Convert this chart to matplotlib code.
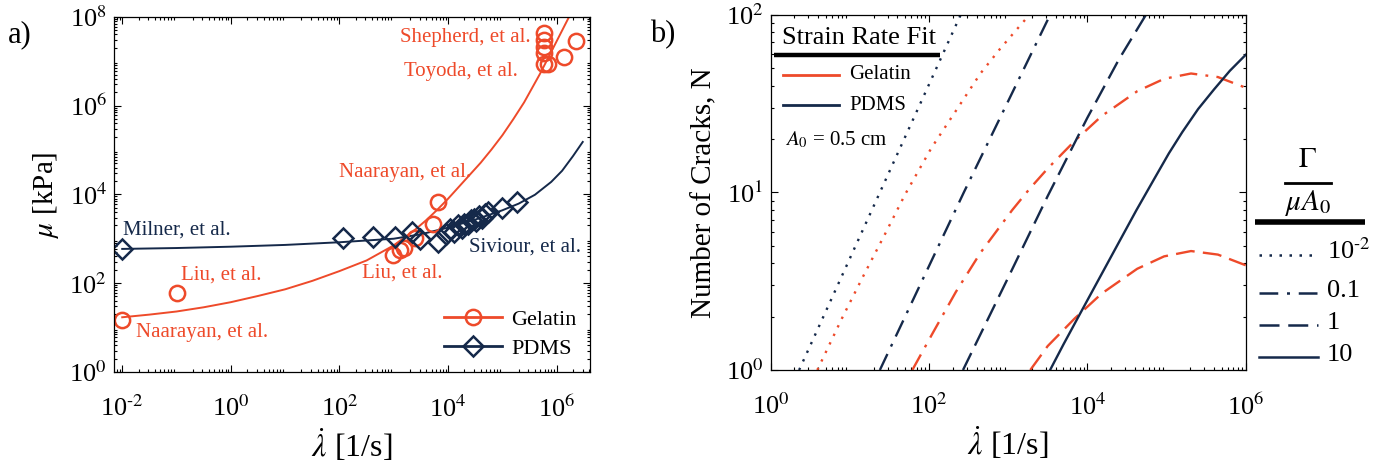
import numpy as np
import matplotlib
matplotlib.use("Agg")
import matplotlib.pyplot as plt
from matplotlib.ticker import LogLocator, NullFormatter
from matplotlib.lines import Line2D

plt.rcParams['font.family'] = ['Liberation Serif', 'DejaVu Serif']
plt.rcParams['mathtext.fontset'] = 'stix'

RED = '#ee4a2a'
BLUE = '#15294a'

# ---------- panel a) data ----------
gel_rate = [0.01, 0.1, 950, 1300, 1550, 2450, 5200, 6500,
            5.8e5, 5.8e5, 5.8e5, 5.8e5, 5.8e5, 6.8e5, 1.35e6, 2.3e6]
gel_mu = [15, 60, 437, 560, 630, 1050, 2100, 6800,
          4.4e7, 3.0e7, 2.1e7, 1.55e7, 8.7e6, 8.7e6, 1.26e7, 2.9e7]

pdms_rate = [0.01, 115, 410, 1050, 2150, 3000, 6500,
             9000, 1.1e4, 1.3e4, 1.5e4, 1.8e4, 2e4, 2.3e4, 2.6e4, 3e4,
             3.3e4, 3.7e4, 4.2e4, 4.8e4, 5.5e4, 1e5, 1.9e5]
pdms_mu = [600, 1050, 1120, 1120, 1380, 1000, 850,
           1300, 1650, 1400, 2000, 1750, 2200, 2100, 2600, 2800,
           2500, 3200, 3000, 3600, 4000, 5000, 6600]

# fit curves (log10 of rate and of modulus)
gel_fit_lograte = [-2, -1.5, -1, -0.5, 0, 0.5, 1, 1.5, 2, 2.5, 2.75, 3.0,
                   3.2, 3.4, 3.6, 3.8, 4.0, 4.2, 4.4, 4.6, 4.8, 5.0, 5.2,
                   5.4, 5.55, 5.7, 5.85, 6.0, 6.15, 6.3]
gel_fit_logmu = [1.23, 1.29, 1.36, 1.455, 1.57, 1.71, 1.86, 2.05, 2.27, 2.51,
                 2.68, 2.85, 3.03, 3.21, 3.42, 3.65, 3.90, 4.17, 4.44, 4.71,
                 5.01, 5.33, 5.69, 6.07, 6.40, 6.73, 7.09, 7.45, 7.81, 8.17]

pdms_fit_lograte = [-2, -1, 0, 1, 2, 2.5, 3, 3.5, 4, 4.5, 5, 5.3, 5.6, 5.9,
                    6.1, 6.3, 6.48]
pdms_fit_logmu = [2.77, 2.79, 2.82, 2.86, 2.92, 2.96, 3.0, 3.1, 3.25, 3.43,
                  3.64, 3.79, 3.99, 4.28, 4.53, 4.86, 5.18]

labels_a = [("Shepherd, et al.", 1.3e3, 3.5e7, RED),
            ("Toyoda, et al.", 1.55e3, 5.8e6, RED),
            ("Naarayan, et al.", 100, 3.1e4, RED),
            ("Milner, et al.", 0.0102, 1.6e3, BLUE),
            ("Liu, et al.", 0.12, 155, RED),
            ("Liu, et al.", 260, 170, RED),
            ("Siviour, et al.", 2.45e4, 660, BLUE),
            ("Naarayan, et al.", 0.018, 7.6, RED)]

# ---------- panel b) data ----------
# log10(rate), log10(N) for each Gamma/(mu A0)
b_gel_dot_lx = [0.59, 0.9, 1.16, 1.45, 1.7, 2.03, 2.37, 2.65, 2.9, 3.19, 3.27]
b_gel_dot_ly = [0, 0.29, 0.52, 0.77, 0.99, 1.25, 1.48, 1.67, 1.81, 1.96, 2.0]
b_gel_dd_lx = [1.79, 2.05, 2.34, 2.65, 3.05, 3.27, 3.5, 3.84, 4.18, 4.63,
               4.97, 5.31, 5.65, 6.0]
b_gel_dd_ly = [0, 0.21, 0.44, 0.66, 0.90, 1.02, 1.135, 1.29, 1.43, 1.57,
               1.64, 1.67, 1.65, 1.59]
b_gel_da_lx = [3.28, 3.5, 3.84, 4.18, 4.63, 4.97, 5.31, 5.65, 6.0]
b_gel_da_ly = [0, 0.135, 0.29, 0.43, 0.57, 0.64, 0.67, 0.65, 0.59]

b_pd_dot_lx = [0.36, 1.38, 2.40]
b_pd_dot_ly = [0, 1, 2]
b_pd_dd_lx = [1.38, 2.44, 3.53]
b_pd_dd_ly = [0, 1, 2]
b_pd_da_lx = [2.43, 3.0, 3.5, 4.0, 4.4, 4.74]
b_pd_da_ly = [0, 0.52, 0.98, 1.42, 1.75, 2.0]
b_pd_so_lx = [3.53, 3.7, 3.9, 4.15, 4.4, 4.62, 4.85, 5.03, 5.2, 5.4, 5.6,
              5.8, 6.0]
b_pd_so_ly = [0, 0.145, 0.31, 0.515, 0.72, 0.90, 1.08, 1.22, 1.34, 1.47,
              1.58, 1.685, 1.775]

gamma_labels = ['10$^{\\text{-}2}$', '0.1', '1', '10']

DOT = (0, (1, 3))
DASHDOT = (0, (7.5, 3.5, 1.2, 3.5))
DASH = (0, (8, 3.5))
SOLID = '-'

fig = plt.figure(figsize=(13.91, 4.66), dpi=100)
ax1 = fig.add_axes([0.082, 0.202, 0.342, 0.762])
ax2 = fig.add_axes([0.554, 0.206, 0.3415, 0.762])


def style_log(ax):
    ax.set_xscale('log')
    ax.set_yscale('log')
    for a in (ax.xaxis, ax.yaxis):
        a.set_major_locator(LogLocator(base=10, numticks=30))
        a.set_minor_locator(LogLocator(base=10, subs=np.arange(2, 10), numticks=30))
        a.set_minor_formatter(NullFormatter())
    ax.tick_params(which='both', direction='in', top=True, right=True,
                   labelsize=19, width=0.8)
    ax.tick_params(which='major', length=5)
    ax.tick_params(which='minor', length=2.5)
    for s in ax.spines.values():
        s.set_linewidth(0.9)
    ax.tick_params(axis='x', pad=17)
    ax.tick_params(axis='y', pad=5)


def exp_label(e):
    if e < 0:
        return '10$^{\\text{-}%d}$' % (-e)
    return '10$^{%d}$' % e


def pw(v):
    return 10 ** np.asarray(v, dtype=float)


# ---------- a) ----------
style_log(ax1)
ax1.plot(pw(gel_fit_lograte), pw(gel_fit_logmu), color=RED, lw=1.4)
ax1.plot(pw(pdms_fit_lograte), pw(pdms_fit_logmu), color=BLUE, lw=1.4)
ax1.plot(gel_rate, gel_mu, 'o', ms=11, mfc='none', mec=RED, mew=1.8)
ax1.plot(pdms_rate, pdms_mu, 'D', ms=10, mfc='none', mec=BLUE, mew=1.8)
ax1.set_xlim(10**-2.15, 10**6.61)
ax1.set_ylim(1, 1e8)
ax1.set_yticks([1, 1e2, 1e4, 1e6, 1e8])
ax1.set_yticklabels([exp_label(e) for e in (0, 2, 4, 6, 8)])
ax1.set_xticks([1e-2, 1, 1e2, 1e4, 1e6])
ax1.set_xticklabels([exp_label(e) for e in (-2, 0, 2, 4, 6)])
for txt, x, y, c in labels_a:
    ax1.text(x, y, txt, color=c, fontsize=15, ha='left', va='center')
h1 = [Line2D([], [], color=RED, lw=2, marker='o', ms=11, mfc='none', mew=1.8),
      Line2D([], [], color=BLUE, lw=2, marker='D', ms=10, mfc='none', mew=1.8)]
ax1.legend(h1, ['Gelatin', 'PDMS'], loc='lower right', frameon=False,
           fontsize=16, handlelength=2.6, handletextpad=0.4,
           borderaxespad=0.2, labelspacing=0.35)
ax1.set_ylabel(r'$\mu$ [kPa]', fontsize=21, labelpad=6)
ax1.set_xlabel(r'$\dot{\lambda}$ [1/s]', fontsize=23, labelpad=4)
fig.text(0.006, 0.925, 'a)', fontsize=22, va='center')

# ---------- b) ----------
style_log(ax2)
ax2.plot(pw(b_gel_dot_lx), pw(b_gel_dot_ly), color=RED, lw=1.7, ls=DOT)
ax2.plot(pw(b_gel_dd_lx), pw(b_gel_dd_ly), color=RED, lw=1.7, ls=DASHDOT)
ax2.plot(pw(b_gel_da_lx), pw(b_gel_da_ly), color=RED, lw=1.7, ls=DASH)
ax2.plot(pw(b_pd_dot_lx), pw(b_pd_dot_ly), color=BLUE, lw=1.7, ls=DOT)
ax2.plot(pw(b_pd_dd_lx), pw(b_pd_dd_ly), color=BLUE, lw=1.7, ls=DASHDOT)
ax2.plot(pw(b_pd_da_lx), pw(b_pd_da_ly), color=BLUE, lw=1.7, ls=DASH)
ax2.plot(pw(b_pd_so_lx), pw(b_pd_so_ly), color=BLUE, lw=1.7, ls=SOLID)
ax2.set_xlim(1, 1e6)
ax2.set_ylim(1, 100)
ax2.set_xticks([1, 1e2, 1e4, 1e6])
ax2.set_xticklabels([exp_label(e) for e in (0, 2, 4, 6)])
ax2.set_yticks([1, 10, 100])
ax2.set_yticklabels([exp_label(e) for e in (0, 1, 2)])
ax2.set_ylabel('Number of Cracks, N', fontsize=21, labelpad=6)
ax2.set_xlabel(r'$\dot{\lambda}$ [1/s]', fontsize=23, labelpad=4)
fig.text(0.467, 0.925, 'b)', fontsize=22, va='center')

# "Strain Rate Fit" legend block
ax2.text(0.023, 0.935, 'Strain Rate Fit', transform=ax2.transAxes,
         fontsize=19, va='center')
ax2.plot([0.008, 0.356], [0.887, 0.887], transform=ax2.transAxes,
         color='black', lw=3.2, solid_capstyle='butt', clip_on=False)
for yy, c, name in [(0.831, RED, 'Gelatin'), (0.746, BLUE, 'PDMS')]:
    ax2.plot([0.027, 0.145], [yy, yy], transform=ax2.transAxes, color=c, lw=2)
    ax2.text(0.166, yy, name, transform=ax2.transAxes, fontsize=15,
             va='center')
ax2.text(0.03, 0.648, r'$A_{\mathit{0}}$ = 0.5 cm', transform=ax2.transAxes,
         fontsize=15, va='center')

# Gamma / (mu A0) legend to the right
fig.text(0.940, 0.657, r'$\Gamma$', fontsize=21, ha='center', va='center')
fig.add_artist(Line2D([0.924, 0.957], [0.607, 0.607], color='black', lw=2))
fig.text(0.940, 0.565, r'$\mu A_0$', fontsize=21, ha='center', va='center')
fig.add_artist(Line2D([0.902, 0.981], [0.524, 0.524], color='black', lw=4,
                      solid_capstyle='butt'))
for ls, lab, yy in zip([DOT, DASHDOT, DASH, SOLID], gamma_labels,
                       [0.453, 0.371, 0.303, 0.234]):
    fig.add_artist(Line2D([0.905, 0.9475], [yy, yy], color=BLUE, lw=1.8, ls=ls))
    fig.text(0.954, yy - 0.008, lab, fontsize=19, va='baseline')

fig.savefig('out.png', dpi=100)
